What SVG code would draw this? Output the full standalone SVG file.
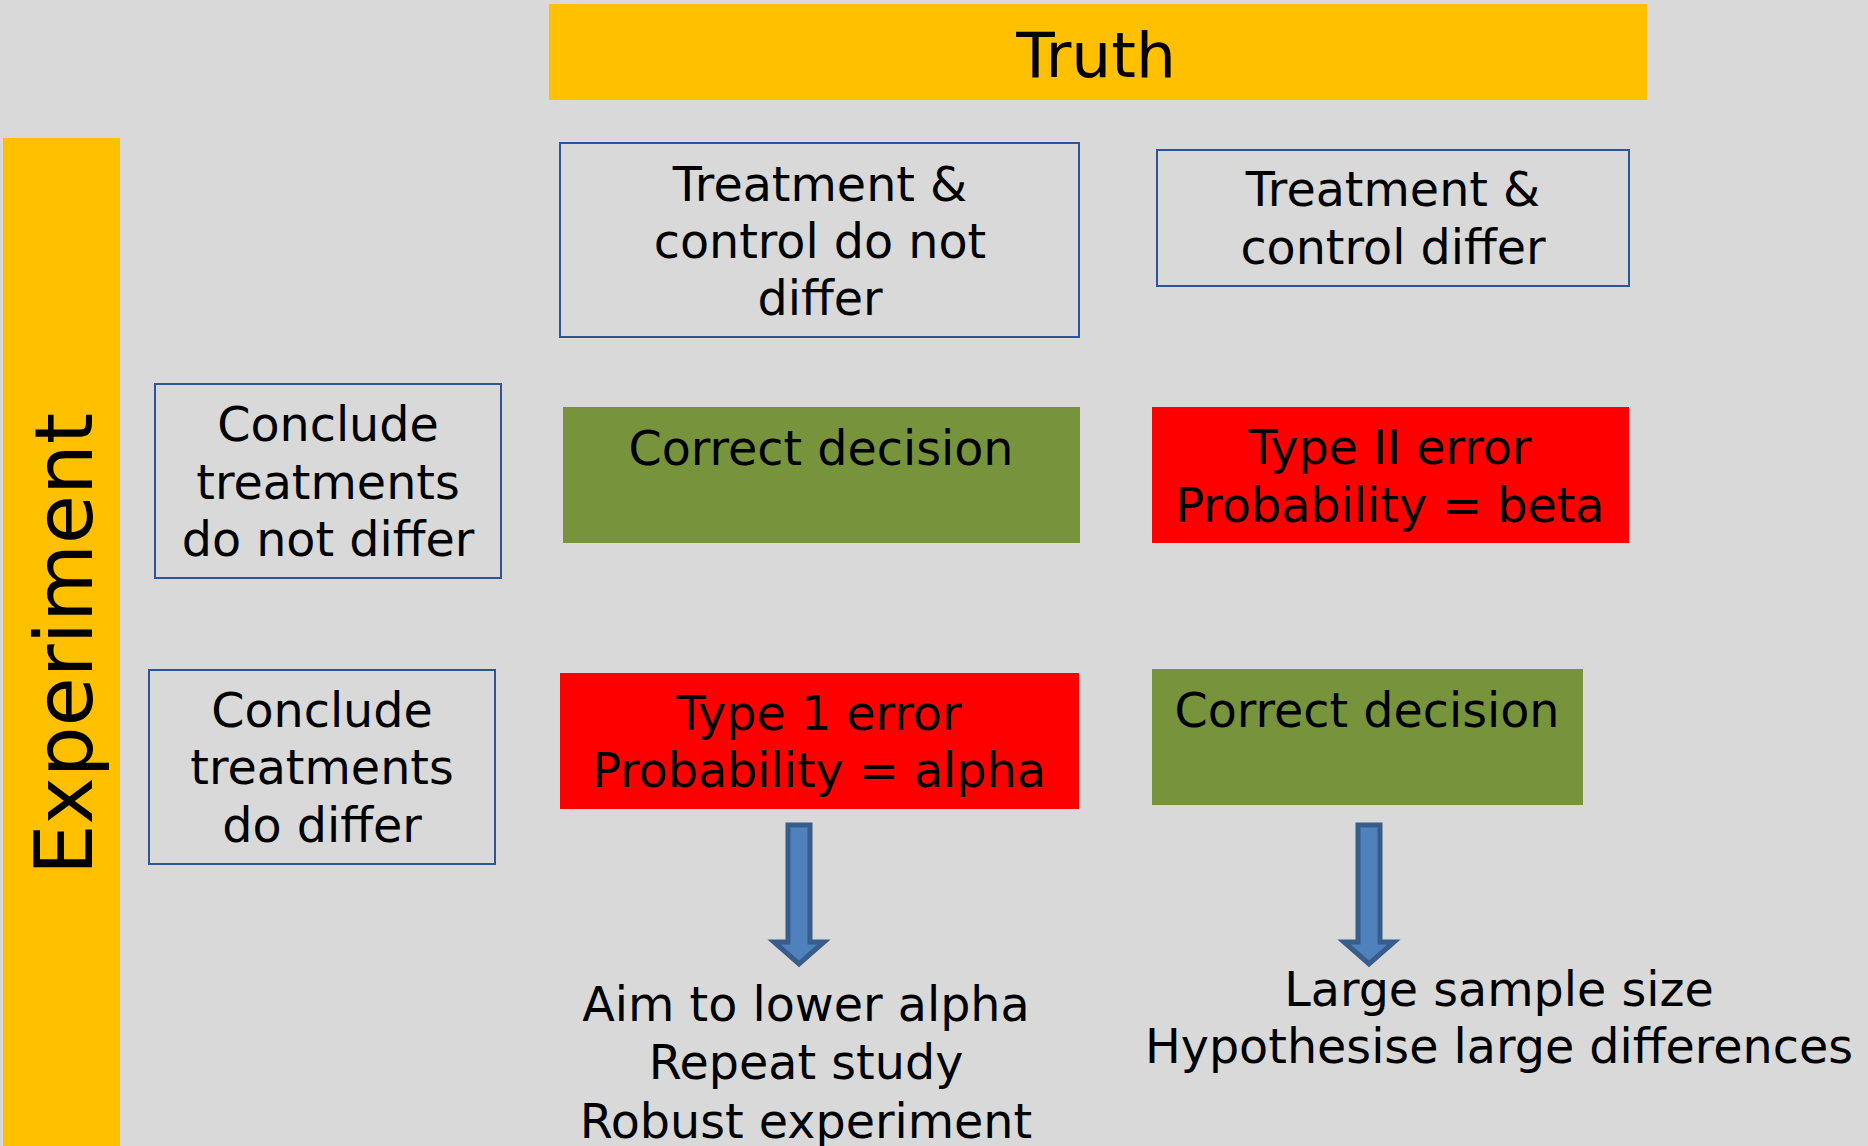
<svg xmlns="http://www.w3.org/2000/svg" width="1868" height="1146" viewBox="0 0 1868 1146">
  <style>
    text { font-family: "DejaVu Sans", Verdana, sans-serif; fill: #000000; text-anchor: middle; }
    .t47 { font-size: 47.6px; }
    .bottom { font-size: 47.6px; }
    .outline { fill: none; stroke: #2F5597; stroke-width: 2; }
    .green { fill: #77933C; }
    .red { fill: #FF0000; }
    .yellow { fill: #FFC000; }
    .arrow { fill: #4F81BD; stroke: #385D8A; stroke-width: 5; stroke-linejoin: miter; }
  </style>
  <rect x="0" y="0" width="1868" height="1146" fill="#D9D9D9"/>

  <g id="truth-header">
    <rect class="yellow" x="549" y="4" width="1098" height="96"/>
    <text x="1096" y="77" style="font-size:63px">Truth</text>
  </g>

  <g id="experiment-header">
    <rect class="yellow" x="3" y="138" width="117" height="1008"/>
    <text transform="translate(92,644) rotate(-90)" style="font-size:80px">Experiment</text>
  </g>

  <g id="truth-no-diff">
    <rect class="outline" x="560" y="143" width="519" height="194"/>
    <text class="t47" x="820" y="201">Treatment &amp;</text>
    <text class="t47" x="820" y="258">control do not</text>
    <text class="t47" x="820" y="315">differ</text>
  </g>

  <g id="truth-diff">
    <rect class="outline" x="1157" y="150" width="472" height="136"/>
    <text class="t47" x="1393" y="206">Treatment &amp;</text>
    <text class="t47" x="1393" y="264">control differ</text>
  </g>

  <g id="conclude-no-diff">
    <rect class="outline" x="155" y="384" width="346" height="194"/>
    <text class="t47" x="328" y="441">Conclude</text>
    <text class="t47" x="328" y="499">treatments</text>
    <text class="t47" x="328" y="556">do not differ</text>
  </g>

  <g id="conclude-diff">
    <rect class="outline" x="149" y="670" width="346" height="194"/>
    <text class="t47" x="322" y="727">Conclude</text>
    <text class="t47" x="322" y="784">treatments</text>
    <text class="t47" x="322" y="842">do differ</text>
  </g>

  <g id="correct-1">
    <rect class="green" x="563" y="407" width="517" height="136"/>
    <text class="t47" x="821" y="465">Correct decision</text>
  </g>

  <g id="type2-error">
    <rect class="red" x="1152" y="407" width="477" height="136"/>
    <text class="t47" x="1390" y="464">Type II error</text>
    <text class="t47" x="1390" y="522">Probability = beta</text>
  </g>

  <g id="type1-error">
    <rect class="red" x="560" y="673" width="519" height="136"/>
    <text class="t47" x="819" y="730">Type 1 error</text>
    <text class="t47" x="819" y="787">Probability = alpha</text>
  </g>

  <g id="correct-2">
    <rect class="green" x="1152" y="669" width="431" height="136"/>
    <text class="t47" x="1367" y="727">Correct decision</text>
  </g>

  <g id="connectors">
    <path class="arrow" d="M788,825 L810,825 L810,942 L824,942 L799,964 L774,942 L788,942 Z"/>
    <path class="arrow" d="M1358,825 L1380,825 L1380,942 L1394,942 L1369,964 L1344,942 L1358,942 Z"/>
  </g>

  <g id="type1-remedies">
    <text class="bottom" x="806" y="1021">Aim to lower alpha</text>
    <text class="bottom" x="806" y="1079">Repeat study</text>
    <text class="bottom" x="806" y="1138">Robust experiment</text>
  </g>

  <g id="type2-remedies">
    <text class="bottom" x="1499" y="1006">Large sample size</text>
    <text class="bottom" x="1499" y="1063">Hypothesise large differences</text>
  </g>
</svg>
